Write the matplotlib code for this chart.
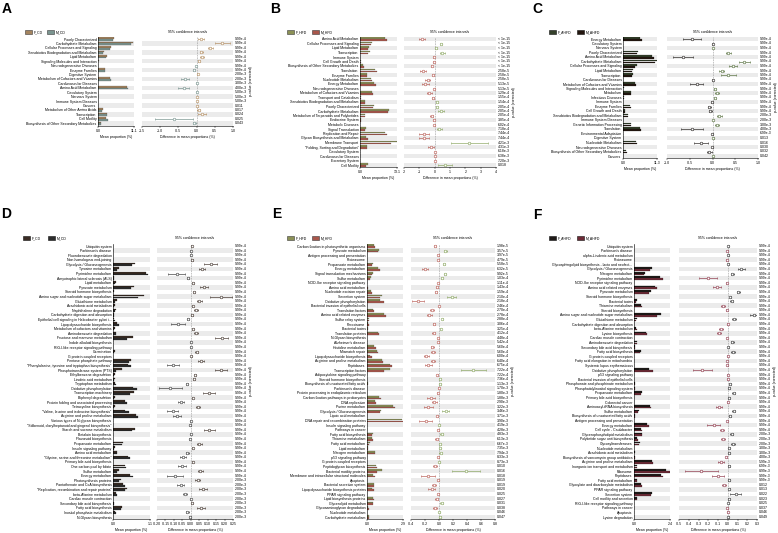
import matplotlib.pyplot as plt
from matplotlib.patches import Rectangle

W, H = 778, 533
FS = 2.5

# ---------------- panel A : F_CD vs M_CD (level 2) ----------------
a_labels = ["Poorly Characterized", "Carbohydrate Metabolism", "Cellular Processes and Signaling",
            "Xenobiotics Biodegradation and Metabolism", "Lipid Metabolism",
            "Signaling Molecules and Interaction", "Neurodegenerative Diseases", "Enzyme Families",
            "Digestive System", "Metabolism of Cofactors and Vitamins", "Cardiovascular Diseases",
            "Amino Acid Metabolism", "Circulatory System", "Nervous System", "Immune System Diseases",
            "Cancers", "Metabolism of Other Amino Acids", "Transcription", "Cell Motility",
            "Biosynthesis of Other Secondary Metabolites"]
a_f = [4.8, 10.9, 3.9, 1.8, 2.8, 0.2, 0.1, 2.2, 0.1, 3.7, 0.05, 8.8, 0.05, 0.1, 0.05, 0.1, 1.45, 2.9, 2.4, 0.95]
a_m = [4.7, 10.2, 3.6, 1.6, 2.6, 0.15, 0.12, 2.3, 0.08, 3.9, 0.05, 9.2, 0.05, 0.1, 0.05, 0.1, 1.35, 2.8, 3.0, 1.0]
a_diff = [0.12, 0.71, 0.38, 0.13, 0.15, 0.06, -0.02, -0.07, 0.03, -0.32, 0.0, -0.35, 0.0, 0.01, 0.01,
          0.02, 0.06, 0.15, -0.62, -0.07]
a_err = [0.08, 0.2, 0.08, 0.04, 0.05, 0.02, 0.01, 0.03, 0.01, 0.1, 0.005, 0.15, 0.005, 0.01, 0.005,
         0.01, 0.04, 0.1, 0.52, 0.04]
a_p = ["9.99e-4"] * 8 + ["2.00e-3", "2.00e-3", "3.00e-3", "4.00e-3", "5.00e-3", "5.00e-3", "5.00e-3",
                         "0.011", "0.017", "0.024", "0.025", "0.043"]

# ---------------- panel B : F_HFD vs M_HFD (level 2) ----------------
b_labels = ["Amino Acid Metabolism", "Cellular Processes and Signaling", "Lipid Metabolism", "Transcription",
            "Immune System", "Cell Growth and Death", "Biosynthesis of Other Secondary Metabolites",
            "Translation", "Enzyme Families", "Nucleotide Metabolism", "Energy Metabolism",
            "Neurodegenerative Diseases", "Metabolism of Cofactors and Vitamins", "Transport and Catabolism",
            "Xenobiotics Biodegradation and Metabolism", "Poorly Characterized", "Carbohydrate Metabolism",
            "Metabolism of Terpenoids and Polyketides", "Endocrine System", "Metabolic Diseases",
            "Signal Transduction", "Replication and Repair", "Glycan Biosynthesis and Metabolism",
            "Membrane Transport", "\"Folding, Sorting and Degradation\"", "Circulatory System",
            "Cardiovascular Diseases", "Excretory System", "Cell Motility"]
b_f = [8.7, 4.2, 3.1, 3.4, 0.05, 0.35, 1.2, 5.3, 2.4, 3.9, 5.1, 0.1, 4.2, 0.2, 1.8, 4.9, 10.4, 1.7, 0.3,
       0.1, 2.0, 8.7, 2.2, 13.0, 2.4, 0.02, 0.02, 0.02, 2.85]
b_m = [9.5, 3.8, 3.0, 2.9, 0.1, 0.4, 1.3, 6.0, 2.5, 4.4, 5.8, 0.12, 4.5, 0.3, 1.65, 4.75, 10.0, 1.9, 0.35,
       0.12, 1.7, 9.4, 2.9, 10.8, 2.6, 0.02, 0.02, 0.02, 2.2]
b_diff = [-0.8, 0.4, 0.1, 0.5, -0.05, -0.05, -0.2, -0.75, -0.1, -0.45, -0.6, -0.03, -0.35, -0.1, 0.15,
          0.15, 0.4, -0.2, -0.05, -0.02, 0.3, -0.7, -0.7, 2.25, -0.25, 0.0, 0.0, 0.0, 0.65]
b_err = [0.2, 0.05, 0.05, 0.15, 0.03, 0.03, 0.05, 0.2, 0.05, 0.15, 0.2, 0.02, 0.15, 0.05, 0.07, 0.07,
         0.2, 0.08, 0.03, 0.02, 0.15, 0.35, 0.3, 1.2, 0.2, 0.01, 0.01, 0.01, 0.45]
b_p = ["< 1e-15"] * 7 + ["2.58e-5", "2.58e-5", "2.58e-5", "5.13e-5", "5.13e-5", "1.29e-4", "1.55e-4",
                         "1.54e-4", "2.05e-4", "2.05e-4", "2.05e-4", "3.85e-4", "6.02e-4", "7.18e-4",
                         "7.44e-4", "7.44e-4", "4.21e-3", "4.31e-3", "6.18e-3", "6.38e-3", "7.20e-3",
                         "0.018"]

# ---------------- panel C : F_AHFD vs M_AHFD (level 2) ----------------
c_labels = ["Energy Metabolism", "Circulatory System", "Nervous System", "Poorly Characterized",
            "Amino Acid Metabolism", "Carbohydrate Metabolism", "Cellular Processes and Signaling",
            "Lipid Metabolism", "Transcription", "Cardiovascular Diseases",
            "Metabolism of Cofactors and Vitamins", "Signaling Molecules and Interaction", "Metabolism",
            "Infectious Diseases", "Immune System", "Enzyme Families", "Cell Growth and Death",
            "Xenobiotics Biodegradation and Metabolism", "Immune System Diseases",
            "Genetic Information Processing", "Translation", "Environmental Adaptation", "Digestive System",
            "Nucleotide Metabolism", "Neurodegenerative Diseases",
            "Biosynthesis of Other Secondary Metabolites", "Cancers"]
c_f = [5.8, 0.02, 0.02, 5.1, 9.6, 11.2, 4.6, 3.3, 3.2, 0.02, 4.0, 0.2, 2.8, 0.4, 0.1, 2.4, 0.55, 1.7,
       0.05, 2.7, 5.6, 0.1, 0.05, 4.2, 0.1, 1.1, 0.1]
c_m = [6.2, 0.02, 0.02, 4.7, 10.2, 10.5, 4.1, 3.1, 2.9, 0.02, 4.4, 0.15, 2.7, 0.35, 0.1, 2.5, 0.6, 1.55,
       0.05, 2.6, 6.1, 0.1, 0.05, 4.5, 0.1, 1.17, 0.1]
c_diff = [-0.45, 0.0, 0.01, 0.35, -0.65, 0.7, 0.45, 0.2, 0.35, 0.0, -0.35, 0.06, 0.1, 0.05, -0.02, -0.07,
          -0.05, 0.15, 0.01, 0.1, -0.45, -0.01, 0.02, -0.25, -0.01, -0.07, 0.01]
c_err = [0.2, 0.005, 0.01, 0.05, 0.22, 0.12, 0.08, 0.05, 0.17, 0.005, 0.15, 0.02, 0.04, 0.02, 0.02, 0.03,
         0.03, 0.06, 0.01, 0.05, 0.25, 0.01, 0.01, 0.15, 0.01, 0.05, 0.01]
c_p = ["9.99e-4"] * 17 + ["2.00e-3", "2.00e-3", "3.00e-3", "4.00e-3", "6.99e-3", "0.013", "0.016",
                          "0.030", "0.032", "0.042"]

# ---------------- panel D : F_CD vs M_CD (level 3) ----------------
d_labels = ["Ubiquitin system", "Parkinson's disease", "Fluorobenzoate degradation", "Non-homologous end-joining",
            "Glycolysis / Gluconeogenesis", "Tyrosine metabolism", "Pyrimidine metabolism",
            "Amyotrophic lateral sclerosis (ALS)", "Lipid metabolism", "Pyruvate metabolism",
            "Steroid hormone biosynthesis", "Amino sugar and nucleotide sugar metabolism",
            "Glutathione metabolism", "Arachidonic acid metabolism", "Naphthalene degradation",
            "Carbohydrate digestion and absorption", "Epithelial cell signaling in Helicobacter pylori i...",
            "Lipopolysaccharide biosynthesis", "Metabolism of cofactors and vitamins",
            "Aminobenzoate degradation", "Fructose and mannose metabolism", "Indole alkaloid biosynthesis",
            "RIG-I-like receptor signaling pathway", "Germination", "G protein-coupled receptors",
            "Pentose phosphate pathway", "\"Phenylalanine, tyrosine and tryptophan biosynthesis\"",
            "Phosphotransferase system (PTS)", "Ethylbenzene degradation", "Linoleic acid metabolism",
            "Tryptophan metabolism", "Oxidative phosphorylation", "Transcription machinery",
            "Biphenyl degradation", "Protein folding and associated processing", "Tetracycline biosynthesis",
            "\"Valine, leucine and isoleucine biosynthesis\"", "Arginine and proline metabolism",
            "Various types of N-glycan biosynthesis",
            "\"Stilbenoid, diarylheptanoid and gingerol biosynthesis\"", "Starch and sucrose metabolism",
            "Betalain biosynthesis", "Flavonoid biosynthesis", "Propanoate metabolism",
            "Insulin signaling pathway", "Amino acid metabolism",
            "\"Glycine, serine and threonine metabolism\"", "Primary bile acid biosynthesis",
            "One carbon pool by folate", "Sulfur metabolism", "Energy metabolism", "Photosynthesis proteins",
            "Pantothenate and CoA biosynthesis", "\"Replication, recombination and repair proteins\"",
            "beta-Alanine metabolism", "Cardiac muscle contraction", "Secondary bile acid biosynthesis",
            "Fatty acid biosynthesis", "Inositol phosphate metabolism", "N-Glycan biosynthesis"]
d_f = [0.01, 0.01, 0.01, 0.01, 0.66, 0.19, 0.98, 0.02, 0.08, 0.61, 0.02, 0.92, 0.11, 0.05, 0.08, 0.03,
       0.04, 0.11, 0.05, 0.1, 0.58, 0.01, 0.01, 0.05, 0.01, 0.53, 0.44, 0.26, 0.05, 0.05, 0.07, 0.58,
       0.61, 0.05, 0.37, 0.06, 0.37, 0.67, 0.01, 0.01, 0.66, 0.01, 0.01, 0.31, 0.05, 0.11, 0.46, 0.01,
       0.35, 0.18, 0.52, 0.23, 0.31, 0.41, 0.09, 0.01, 0.03, 0.28, 0.06, 0.01]
d_m = [0.01, 0.01, 0.01, 0.01, 0.55, 0.13, 1.05, 0.03, 0.07, 0.54, 0.01, 0.75, 0.07, 0.04, 0.06, 0.03,
       0.05, 0.18, 0.04, 0.08, 0.41, 0.01, 0.01, 0.02, 0.01, 0.48, 0.53, 0.1, 0.03, 0.04, 0.09, 0.7,
       0.52, 0.04, 0.43, 0.03, 0.47, 0.74, 0.01, 0.01, 0.56, 0.01, 0.01, 0.27, 0.04, 0.13, 0.5, 0.01,
       0.4, 0.13, 0.6, 0.19, 0.37, 0.35, 0.12, 0.01, 0.02, 0.23, 0.08, 0.01]
d_diff = [0.005, 0.0, 0.0, 0.008, 0.118, 0.066, -0.083, -0.018, 0.013, 0.077, 0.02, 0.177, 0.05, 0.011,
          0.03, 0.008, -0.018, -0.077, 0.015, 0.031, 0.183, 0.0, 0.0, 0.035, 0.003, 0.06, -0.103, 0.178,
          0.025, 0.02, -0.023, -0.121, 0.108, 0.011, -0.06, 0.045, -0.108, -0.083, 0.0, -0.004, 0.11,
          0.0, -0.005, 0.05, 0.011, -0.02, -0.047, 0.011, -0.05, 0.055, -0.095, 0.04, -0.06, 0.07,
          -0.033, 0.0, 0.008, 0.061, -0.02, -0.004]
d_err = [0.003, 0.003, 0.003, 0.004, 0.04, 0.02, 0.05, 0.005, 0.005, 0.025, 0.005, 0.065, 0.015, 0.005,
         0.01, 0.004, 0.006, 0.04, 0.006, 0.01, 0.04, 0.002, 0.002, 0.01, 0.003, 0.02, 0.035, 0.035,
         0.008, 0.006, 0.008, 0.07, 0.035, 0.005, 0.017, 0.012, 0.03, 0.025, 0.002, 0.003, 0.033, 0.002,
         0.003, 0.015, 0.005, 0.008, 0.018, 0.004, 0.024, 0.015, 0.047, 0.015, 0.022, 0.024, 0.012,
         0.002, 0.004, 0.022, 0.007, 0.004]
d_p = ["9.99e-4"] * 51 + ["2.00e-3"] * 9

# ---------------- panel E : F_HFD vs M_HFD (level 3) ----------------
e_labels = ["Carbon fixation in photosynthetic organisms", "Pyruvate metabolism",
            "Antigen processing and presentation", "Proteasome", "Propanoate metabolism", "Energy metabolism",
            "Signal transduction mechanisms", "Sulfur metabolism", "NOD-like receptor signaling pathway",
            "Amino acid metabolism", "Nucleotide excision repair", "Secretion system",
            "Oxidative phosphorylation", "Bacterial invasion of epithelial cells", "Translation factors",
            "Amino acid related enzymes", "Sulfur relay system", "Peroxisome", "Bacterial toxins",
            "Translation proteins", "N-Glycan biosynthesis", "Alzheimer's disease", "Histidine metabolism",
            "Mismatch repair", "Lipopolysaccharide biosynthesis", "Arginine and proline metabolism",
            "Peptidases", "Transcription factors", "Adipocytokine signaling pathway",
            "Steroid hormone biosynthesis", "Biosynthesis of unsaturated fatty acids", "Parkinson's disease",
            "Protein processing in endoplasmic reticulum", "Carbon fixation pathways in prokaryotes",
            "DNA replication", "Purine metabolism", "Glycolysis / Gluconeogenesis", "Lipoic acid metabolism",
            "DNA repair and recombination proteins", "Insulin signaling pathway", "Pathways in cancer",
            "Fatty acid biosynthesis", "Thiamine metabolism", "Fatty acid metabolism", "Lipid metabolism",
            "Nitrogen metabolism", "p53 signaling pathway", "G protein-coupled receptors",
            "Peptidoglycan biosynthesis", "Bacterial motility proteins",
            "Membrane and intracellular structural molecules", "Apoptosis", "Bacterial secretion system",
            "Lipopolysaccharide biosynthesis proteins", "PPAR signaling pathway", "Lipid biosynthesis proteins",
            "Glycerolipid metabolism", "Glycosaminoglycan degradation", "Nucleotide metabolism",
            "Carbohydrate metabolism"]
e_f = [0.6, 1.0, 0.01, 0.01, 0.47, 0.88, 0.47, 0.3, 0.01, 0.04, 0.34, 1.22, 1.05, 0.01, 0.5, 1.38,
       0.19, 0.09, 0.11, 0.87, 0.02, 0.02, 0.6, 0.8, 0.22, 1.2, 1.88, 1.87, 0.01, 0.02, 0.06, 0.01, 0.01,
       0.98, 0.68, 2.12, 1.12, 0.02, 2.82, 0.01, 0.01, 0.46, 0.43, 0.21, 0.09, 0.63, 0.01, 0.01, 0.76,
       1.22, 0.52, 0.01, 0.53, 0.44, 0.01, 0.52, 0.49, 0.08, 0.02, 0.16]
e_m = [0.66, 0.91, 0.02, 0.02, 0.4, 1.08, 0.39, 0.25, 0.02, 0.07, 0.39, 1.04, 1.35, 0.01, 0.6, 1.52,
       0.14, 0.16, 0.09, 0.95, 0.03, 0.03, 0.69, 0.89, 0.4, 1.29, 2.03, 1.38, 0.03, 0.01, 0.05, 0.01, 0.03,
       1.09, 0.75, 2.27, 1.02, 0.04, 3.01, 0.01, 0.02, 0.42, 0.46, 0.2, 0.08, 0.61, 0.02, 0.01, 0.82,
       0.83, 0.67, 0.02, 0.6, 0.54, 0.02, 0.55, 0.45, 0.14, 0.02, 0.14]
e_diff = [-0.057, 0.09, -0.01, -0.01, 0.075, -0.2, 0.085, 0.047, -0.01, -0.033, -0.047, 0.18, -0.3, 0.0,
          -0.1, -0.137, 0.047, -0.066, 0.024, -0.075, -0.014, -0.014, -0.094, -0.085, -0.18, -0.085,
          -0.15, 0.49, -0.024, 0.014, 0.014, -0.004, -0.02, -0.11, -0.07, -0.15, 0.1, -0.024, -0.19,
          0.005, -0.01, 0.038, -0.033, 0.014, 0.014, 0.024, -0.01, 0.005, -0.057, 0.39, -0.15, -0.01,
          -0.07, -0.1, -0.01, -0.033, 0.038, -0.057, 0.005, 0.02]
e_err = [0.015, 0.02, 0.008, 0.008, 0.015, 0.045, 0.02, 0.015, 0.005, 0.015, 0.015, 0.06, 0.09, 0.005,
         0.025, 0.035, 0.01, 0.015, 0.01, 0.025, 0.007, 0.007, 0.025, 0.03, 0.04, 0.03, 0.05, 0.18, 0.008,
         0.008, 0.01, 0.005, 0.008, 0.06, 0.035, 0.07, 0.05, 0.01, 0.09, 0.005, 0.005, 0.02, 0.02, 0.015,
         0.012, 0.02, 0.005, 0.005, 0.03, 0.2, 0.1, 0.005, 0.03, 0.05, 0.008, 0.025, 0.02, 0.03, 0.01,
         0.015]
e_p = ["1.98e-5", "3.57e-5", "3.97e-5", "4.79e-5", "5.58e-5", "6.32e-5", "9.92e-5", "1.03e-4", "1.11e-4",
       "1.43e-4", "1.59e-4", "2.10e-4", "2.18e-4", "2.46e-4", "2.70e-4", "2.78e-4", "2.88e-4", "3.06e-4",
       "3.25e-4", "4.12e-4", "4.48e-4", "5.42e-4", "5.60e-4", "5.60e-4", "6.00e-4", "6.40e-4", "6.75e-4",
       "7.22e-4", "7.22e-4", "7.36e-4", "1.13e-3", "1.70e-3", "1.80e-3", "1.88e-3", "2.90e-3", "3.22e-3",
       "3.46e-3", "3.71e-3", "3.90e-3", "4.19e-3", "4.28e-3", "4.83e-3", "6.13e-3", "6.67e-3", "7.35e-3",
       "7.94e-3", "8.33e-3", "8.73e-3", "0.010", "0.016", "0.018", "0.019", "0.019", "0.020", "0.025",
       "0.027", "0.031", "0.038", "0.046", "0.047"]

# ---------------- panel F : F_AHFD vs M_AHFD (level 3) ----------------
f_labels = ["Ubiquitin system", "Parkinson's disease", "alpha-Linolenic acid metabolism", "Proteasome",
            "Glycosphingolipid biosynthesis - lacto and neolact...", "Glycolysis / Gluconeogenesis",
            "Nitrogen metabolism", "Pyrimidine metabolism", "NOD-like receptor signaling pathway",
            "Amino acid related enzymes", "Pyruvate metabolism", "Steroid hormone biosynthesis",
            "Bacterial toxins", "Thiamine metabolism", "Steroid biosynthesis",
            "Amino sugar and nucleotide sugar metabolism", "Glutathione metabolism",
            "Carbohydrate digestion and absorption", "beta-Alanine metabolism", "Lysine biosynthesis",
            "Cardiac muscle contraction", "Aminobenzoate degradation", "Secondary bile acid biosynthesis",
            "Fatty acid biosynthesis", "G protein-coupled receptors", "Fatty acid elongation in mitochondria",
            "Systemic lupus erythematosus", "Oxidative phosphorylation", "p53 signaling pathway",
            "Bacterial invasion of epithelial cells", "Phosphonate and phosphinate metabolism",
            "Phosphatidylinositol signaling system", "Propanoate metabolism", "Primary bile acid biosynthesis",
            "Colorectal cancer", "Aminoacyl-tRNA biosynthesis", "Sulfur metabolism",
            "Biosynthesis of unsaturated fatty acids", "Antigen processing and presentation",
            "Energy metabolism", "Cell cycle - Caulobacter", "Glycerophospholipid metabolism",
            "Polyketide sugar unit biosynthesis", "Glycosyltransferases", "Nucleotide metabolism",
            "Arachidonic acid metabolism", "Biosynthesis of vancomycin group antibiotics",
            "Arginine and proline metabolism", "Inorganic ion transport and metabolism", "Ribosome",
            "Peptidases", "Fatty acid metabolism", "Glyoxylate and dicarboxylate metabolism",
            "PPAR signaling pathway", "Secretion system", "Cell motility and secretion",
            "RIG-I-like receptor signaling pathway", "Pathways in cancer", "Apoptosis", "Lysine degradation"]
f_f = [0.01, 0.01, 0.01, 0.01, 0.01, 1.2, 0.72, 1.72, 0.01, 1.4, 1.12, 0.03, 0.17, 0.46, 0.01, 1.78,
       0.2, 0.03, 0.15, 0.77, 0.01, 0.22, 0.05, 0.48, 0.01, 0.01, 0.01, 1.0, 0.01, 0.01, 0.06, 0.09,
       0.5, 0.03, 0.01, 1.05, 0.33, 0.06, 0.01, 0.85, 0.45, 0.55, 0.21, 0.4, 0.03, 0.04, 0.05, 1.17,
       0.22, 2.1, 1.8, 0.22, 0.48, 0.02, 1.18, 0.2, 0.01, 0.01, 0.01, 0.02]
f_m = [0.01, 0.02, 0.01, 0.02, 0.01, 1.06, 0.68, 1.92, 0.02, 1.51, 1.01, 0.02, 0.13, 0.51, 0.02, 1.51,
       0.14, 0.03, 0.22, 0.86, 0.02, 0.18, 0.04, 0.43, 0.01, 0.02, 0.01, 1.26, 0.01, 0.01, 0.04, 0.08,
       0.44, 0.02, 0.01, 1.14, 0.27, 0.04, 0.02, 0.99, 0.51, 0.51, 0.25, 0.34, 0.02, 0.03, 0.06, 1.24,
       0.2, 2.37, 1.9, 0.21, 0.52, 0.01, 1.1, 0.18, 0.01, 0.01, 0.01, 0.01]
f_diff = [0.007, -0.007, 0.007, -0.01, 0.004, 0.14, 0.045, -0.2, -0.01, -0.11, 0.11, 0.028, 0.04, -0.05,
          -0.01, 0.27, 0.062, 0.0, -0.07, -0.09, -0.007, 0.045, 0.007, 0.055, 0.0, -0.007, -0.003, -0.26,
          0.0, 0.0, 0.024, 0.014, 0.062, 0.014, 0.0, -0.09, 0.062, 0.02, -0.007, -0.145, -0.055, 0.04,
          -0.045, 0.058, 0.017, 0.01, -0.014, -0.065, 0.017, -0.27, -0.1, 0.014, -0.04, 0.014, 0.08,
          0.017, 0.004, -0.004, 0.0, 0.007]
f_err = [0.005, 0.005, 0.005, 0.005, 0.004, 0.04, 0.015, 0.09, 0.006, 0.04, 0.02, 0.01, 0.015, 0.02,
         0.006, 0.04, 0.02, 0.004, 0.02, 0.025, 0.004, 0.015, 0.005, 0.02, 0.003, 0.004, 0.004, 0.095,
         0.003, 0.003, 0.01, 0.01, 0.015, 0.008, 0.003, 0.035, 0.015, 0.01, 0.005, 0.065, 0.02, 0.015,
         0.02, 0.02, 0.01, 0.008, 0.008, 0.03, 0.01, 0.165, 0.06, 0.01, 0.02, 0.006, 0.055, 0.01, 0.004,
         0.003, 0.003, 0.005]
f_p = ["9.99e-4"] * 41 + ["2.00e-3", "2.00e-3", "2.00e-3", "3.00e-3", "3.00e-3", "4.00e-3", "5.99e-3",
                          "6.99e-3", "8.99e-3", "9.99e-3", "9.99e-3", "0.012", "0.013", "0.022", "0.023",
                          "0.025", "0.037", "0.046", "0.049"]

plt.rcParams['font.family'] = ['Liberation Sans', 'DejaVu Sans']
fig = plt.figure(figsize=(W / 100, H / 100), dpi=100)


def px_axes(x0, y0, x1, y1):
    return fig.add_axes([x0 / W, 1 - y1 / H, (x1 - x0) / W, (y1 - y0) / H])


def legend_item(x, y, color, edge, text):
    fig.patches.append(Rectangle((x / W, 1 - (y + 1.5) / H), 7 / W, 3 / H, transform=fig.transFigure,
                                 facecolor=color, edgecolor=edge, linewidth=0.4))
    fig.text((x + 9) / W, 1 - y / H, text, fontsize=FS, va='center', ha='left')


def stamp_panel(letter, letter_xy, labels, fv, mv, diff, err, pv, names, cols, mcols, edge,
                bar_x, diff_x, rows_y, bar_max, dlim, dticks, dfmt, leg_x, head_y):
    n = len(labels)
    step = (rows_y[1] - rows_y[0]) / (n - 1)
    top, bot = rows_y[0] - step / 2, rows_y[1] + step / 2
    axb = px_axes(bar_x[0], top, bar_x[1], bot)
    axd = px_axes(diff_x[0], top, diff_x[1], bot)
    ys = list(range(n))

    for ax in (axb, axd):
        ax.set_ylim(n - 0.5, -0.5)
        for i in ys:
            if (n - 1 - i) % 2 == 0:
                ax.axhspan(i - 0.5, i + 0.5, color='#ebebeb', lw=0, zorder=0)
        for s in ('top', 'right'):
            ax.spines[s].set_visible(False)
        ax.spines['bottom'].set_linewidth(0.4)
        ax.tick_params(axis='x', labelsize=FS, length=1.2, width=0.3, pad=1)

    axb.barh([y - 0.19 for y in ys], fv, height=0.36, color=cols[0], edgecolor=edge, linewidth=0.15)
    axb.barh([y + 0.19 for y in ys], mv, height=0.36, color=cols[1], edgecolor=edge, linewidth=0.15)
    axb.set_xlim(0, bar_max)
    axb.set_xticks([0, bar_max])
    axb.set_xticklabels(['0.0', f'{bar_max}'])
    axb.set_yticks(ys)
    axb.set_yticklabels(labels, fontsize=FS)
    axb.tick_params(axis='y', length=0, pad=1)
    axb.spines['left'].set_linewidth(0.4)
    axb.set_xlabel('Mean proportion (%)', fontsize=FS, labelpad=1.5)

    axd.spines['left'].set_visible(False)
    axd.set_yticks([])
    axd.set_xlim(*dlim)
    axd.set_xticks(dticks)
    axd.set_xticklabels([dfmt.format(t) for t in dticks])
    axd.axvline(0, color='#9a9a9a', lw=0.4, ls=(0, (3, 1.5)), zorder=1)
    for i in ys:
        c = mcols[0] if diff[i] > 0 else mcols[1]
        axd.errorbar(diff[i], i, xerr=err[i], fmt='o', ms=1.9, mfc='white', mec=c, mew=0.4,
                     ecolor=c, elinewidth=0.45, capsize=0.9, capthick=0.4, zorder=3)
        axd.text(1.02, i, pv[i], transform=axd.get_yaxis_transform(), fontsize=FS,
                 va='center', ha='left')
    axd.set_xlabel('Difference in mean proportions (%)', fontsize=FS, labelpad=1.5)

    fig.text((diff_x[0] + diff_x[1]) / 2 / W, 1 - head_y / H, '95% confidence intervals',
             fontsize=FS, ha='center', va='center')
    fig.text((diff_x[1] + 18) / W, 1 - (top + bot) / 2 / H, 'p-value (corrected)', fontsize=FS,
             rotation=90, ha='center', va='center')
    legend_item(leg_x[0], head_y, cols[0], edge, names[0])
    legend_item(leg_x[1], head_y, cols[1], edge, names[1])
    fig.text(letter_xy[0] / W, 1 - letter_xy[1] / H, letter, fontsize=10, fontweight='bold',
             ha='left', va='top')


TOP_HEAD, BOT_HEAD = 32, 238

stamp_panel('A', (2, 2), a_labels, a_f, a_m, a_diff, a_err, a_p, ('F_CD', 'M_CD'),
            ('#a4845f', '#7b9590'), ('#b0895a', '#6f8c87'), '#3a3a3a',
            (98, 134), (142, 233), (39, 123.3), 11.1, (-1.5, 1.0),
            [-1.5, -1.0, -0.5, 0.0, 0.5, 1.0], '{:.1f}', (25, 47), TOP_HEAD)

stamp_panel('B', (270, 2), b_labels, b_f, b_m, b_diff, b_err, b_p, ('F_HFD', 'M_HFD'),
            ('#8c9156', '#a9574b'), ('#86a35a', '#b5554d'), '#3a3a3a',
            (360, 397), (404, 496), (39, 165), 13.1, (-2, 4),
            [-2, -1, 0, 1, 2, 3, 4], '{:d}', (287, 312), TOP_HEAD)

stamp_panel('C', (532, 2), c_labels, c_f, c_m, c_diff, c_err, c_p, ('F_AHFD', 'M_AHFD'),
            ('#34402a', '#23160f'), ('#4f6a35', '#1e1a18'), '#111111',
            (623, 657), (667, 758), (39, 156), 11.3, (-1.0, 1.0),
            [-1.0, -0.5, 0.0, 0.5, 1.0], '{:.1f}', (549, 577), TOP_HEAD)

stamp_panel('D', (1, 207), d_labels, d_f, d_m, d_diff, d_err, d_p, ('F_CD', 'M_CD'),
            ('#3a2c24', '#2c2c2c'), ('#3a2c24', '#333333'), '#111111',
            (113, 150), (157, 233), (246, 517), 1.1, (-0.20, 0.25),
            [-0.20, -0.15, -0.10, -0.05, 0.00, 0.05, 0.10, 0.15, 0.20, 0.25], '{:.2f}', (23, 48), BOT_HEAD)

stamp_panel('E', (272, 207), e_labels, e_f, e_m, e_diff, e_err, e_p, ('F_HFD', 'M_HFD'),
            ('#8c9156', '#a9574b'), ('#86a35a', '#b5554d'), '#3a3a3a',
            (367, 403), (411, 495), (246, 517), 2.9, (-0.4, 0.8),
            [-0.4, -0.2, 0.0, 0.2, 0.4, 0.6, 0.8], '{:.1f}', (287, 312), BOT_HEAD)

stamp_panel('F', (533, 208), f_labels, f_f, f_m, f_diff, f_err, f_p, ('F_AHFD', 'M_AHFD'),
            ('#1f1a18', '#6e2a36'), ('#2a2a2a', '#8a2f42'), '#111111',
            (634, 670), (679, 757), (246, 517), 2.4, (-0.5, 0.3),
            [-0.5, -0.4, -0.3, -0.2, -0.1, 0.0, 0.1, 0.2, 0.3], '{:.1f}', (549, 577), BOT_HEAD)

fig.savefig('out.png', dpi=100)
